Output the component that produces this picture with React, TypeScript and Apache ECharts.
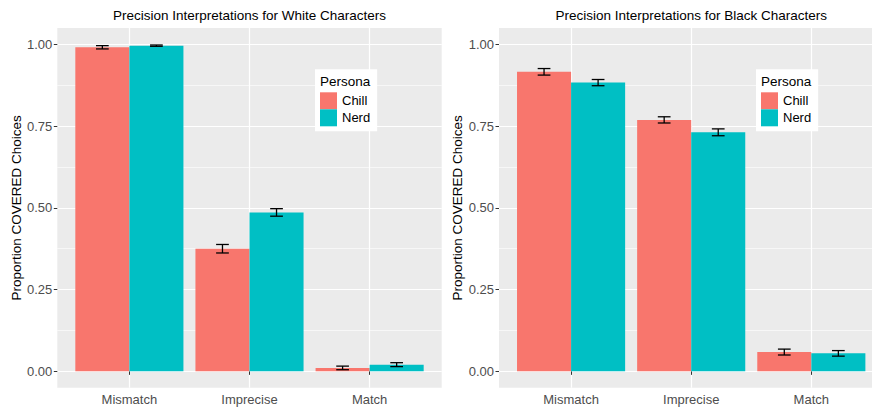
import React, { useEffect, useRef } from "react";
import * as echarts from "echarts";

const categories = ["Mismatch", "Imprecise", "Match"];
const categoryPositions = [1, 2, 3];
const personas = ["Chill", "Nerd"];
const personaColors = ["#F8766D", "#00BFC4"];

const whiteChill = [0.991, 0.375, 0.0105];
const whiteChillErr = [0.005, 0.013, 0.0055];
const whiteNerd = [0.996, 0.486, 0.0205];
const whiteNerdErr = [0.002, 0.0115, 0.006];

const blackChill = [0.916, 0.769, 0.059];
const blackChillErr = [0.010, 0.0095, 0.009];
const blackNerd = [0.883, 0.731, 0.055];
const blackNerdErr = [0.0095, 0.0105, 0.0085];

const yTicks = [0, 0.25, 0.5, 0.75, 1.0];

const titles = [
  "Precision Interpretations for White Characters",
  "Precision Interpretations for Black Characters",
];
const yTitle = "Proportion COVERED Choices";
const legendTitle = "Persona";

const FONT = "'Liberation Sans', Arial, Helvetica, sans-serif";

export default function App() {
  const ref = useRef<HTMLDivElement>(null);
  useEffect(() => {
    document.body.style.margin = "0";
    document.body.style.overflow = "hidden";
    document.documentElement.style.overflow = "hidden";
    if (!ref.current) return;
    const chart = echarts.init(ref.current, null, { renderer: "svg" });

    const panels = [
      { chill: whiteChill, chillErr: whiteChillErr, nerd: whiteNerd, nerdErr: whiteNerdErr },
      { chill: blackChill, chillErr: blackChillErr, nerd: blackNerd, nerdErr: blackNerdErr },
    ];
    const grids = [
      { left: 57.3, top: 28, width: 384.4, height: 359.7 },
      { left: 499, top: 28, width: 384.4, height: 359.7 },
    ];
    const legendLeft = [315, 756];

    const series: any[] = [];
    panels.forEach((p, i) => {
      series.push({
        name: personas[0], type: "bar", xAxisIndex: i, yAxisIndex: i,
        data: categoryPositions.map((x, ci) => [x, p.chill[ci]]),
        barGap: "0%", barCategoryGap: "10%",
        itemStyle: { color: personaColors[0] }, z: 2,
      });
      series.push({
        name: personas[1], type: "bar", xAxisIndex: i, yAxisIndex: i,
        data: categoryPositions.map((x, ci) => [x, p.nerd[ci]]),
        barGap: "0%", barCategoryGap: "10%",
        itemStyle: { color: personaColors[1] }, z: 2,
      });
      const errData: number[][] = [];
      categoryPositions.forEach((x, ci) => {
        errData.push([x, p.chill[ci] - p.chillErr[ci], p.chill[ci] + p.chillErr[ci], 0]);
        errData.push([x, p.nerd[ci] - p.nerdErr[ci], p.nerd[ci] + p.nerdErr[ci], 1]);
      });
      series.push({
        name: "err" + i, type: "custom", xAxisIndex: i, yAxisIndex: i, z: 5,
        data: errData,
        encode: { x: 0, y: [1, 2] },
        renderItem: (params: any, api: any) => {
          const cx = api.value(0);
          const lo = api.coord([cx, api.value(1)]);
          const hi = api.coord([cx, api.value(2)]);
          const bw = api.size([1, 0])[0];
          const g = api.value(3);
          const x = lo[0] + (g === 0 ? -0.225 : 0.225) * bw;
          const hw = 0.053 * bw;
          const style = { stroke: "#000", lineWidth: 1.3 };
          return {
            type: "group",
            children: [
              { type: "line", shape: { x1: x, y1: lo[1], x2: x, y2: hi[1] }, style },
              { type: "line", shape: { x1: x - hw, y1: lo[1], x2: x + hw, y2: lo[1] }, style },
              { type: "line", shape: { x1: x - hw, y1: hi[1], x2: x + hw, y2: hi[1] }, style },
            ],
          };
        },
      });
    });

    const option: any = {
      animation: false,
      textStyle: { fontFamily: FONT },
      grid: grids.map((g) => ({
        ...g, show: true, backgroundColor: "#EBEBEB", borderWidth: 0, containLabel: false,
        outerBoundsMode: "none",
      })),
      xAxis: grids.map((_, i) => ({
        type: "value", gridIndex: i, min: 0.4, max: 3.6,
        minInterval: 1, maxInterval: 1,
        axisLine: { show: false },
        axisTick: { show: true, length: 3.5, lineStyle: { color: "#333", width: 1 }, customValues: categoryPositions },
        axisLabel: {
          color: "#4D4D4D", fontSize: 13, margin: 5, fontFamily: FONT,
          customValues: categoryPositions,
          formatter: (v: number) => categories[categoryPositions.indexOf(Math.round(v))] ?? "",
        },
        splitLine: { show: true, lineStyle: { color: "#FFFFFF", width: 1.2 } },
      })),
      yAxis: grids.map((_, i) => ({
        type: "value", gridIndex: i, min: -0.05, max: 1.05,
        minInterval: 0.25, maxInterval: 0.25,
        name: yTitle, nameLocation: "middle", nameRotate: 90, nameGap: 34,
        nameTextStyle: { color: "#000", fontSize: 13.5, fontFamily: FONT },
        axisLine: { show: false },
        axisTick: { show: true, length: 3.5, lineStyle: { color: "#333", width: 1 }, customValues: yTicks },
        axisLabel: {
          color: "#4D4D4D", fontSize: 13, margin: 5, fontFamily: FONT,
          customValues: yTicks,
          formatter: (v: number) => v.toFixed(2),
        },
        splitLine: { show: true, lineStyle: { color: "#FFFFFF", width: 1.2 } },
        minorTick: { show: false, splitNumber: 2 },
        minorSplitLine: { show: true, lineStyle: { color: "#FFFFFF", width: 0.6 } },
      })),
      legend: legendLeft.map((l) => ({
        data: personas, orient: "vertical", left: l, top: 69.3,
        itemWidth: 17, itemHeight: 17, itemGap: 0,
        padding: [23, 7, 5, 5], backgroundColor: "#FFFFFF",
        icon: "rect", selectedMode: false,
        textStyle: { color: "#000", fontSize: 13, fontFamily: FONT, padding: [0, 0, 0, 0] },
      })),
      graphic: [
        ...titles.map((t, i) => ({
          type: "text", z: 100,
          x: grids[i].left + grids[i].width / 2, y: 15.7,
          style: { text: t, fill: "#000", font: `13.5px ${FONT}`, align: "center", verticalAlign: "middle" },
        })),
        ...legendLeft.map((l) => ({
          type: "text", z: 100, x: l + 5, y: 81.7,
          style: { text: legendTitle, fill: "#000", font: `13.5px ${FONT}`, align: "left", verticalAlign: "middle" },
        })),
      ],
      series,
    };
    chart.setOption(option);
    return () => chart.dispose();
  }, []);
  return <div ref={ref} style={{ width: 884, height: 409 }} />;
}
